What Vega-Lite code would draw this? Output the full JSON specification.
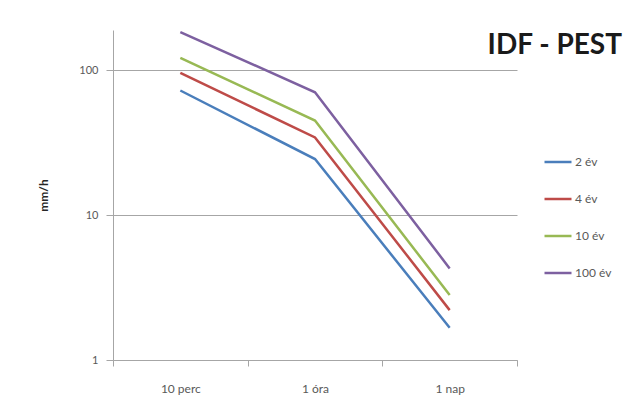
{
  "$schema": "https://vega.github.io/schema/vega-lite/v6.json",
  "width": 404,
  "height": 330,
  "autosize": {"type": "none"},
  "padding": {"left": 113, "top": 30, "right": 112, "bottom": 58},
  "background": "white",
  "config": {
    "font": "Lato",
    "view": {"stroke": null}
  },
  "title": {
    "text": "IDF - PEST",
    "anchor": "end",
    "frame": "group",
    "orient": "top",
    "offset": 0,
    "dx": 105,
    "dy": 33,
    "font": "Lato",
    "fontSize": 28,
    "fontWeight": "bold",
    "color": "#1a1a1a"
  },
  "data": {
    "values": [
      {"idotartam": "10 perc", "sor": "2 év", "ertek": 72.6},
      {"idotartam": "10 perc", "sor": "4 év", "ertek": 96},
      {"idotartam": "10 perc", "sor": "10 év", "ertek": 122},
      {"idotartam": "10 perc", "sor": "100 év", "ertek": 184},
      {"idotartam": "1 óra", "sor": "2 év", "ertek": 24.4},
      {"idotartam": "1 óra", "sor": "4 év", "ertek": 34.4},
      {"idotartam": "1 óra", "sor": "10 év", "ertek": 45},
      {"idotartam": "1 óra", "sor": "100 év", "ertek": 70.6},
      {"idotartam": "1 nap", "sor": "2 év", "ertek": 1.67},
      {"idotartam": "1 nap", "sor": "4 év", "ertek": 2.21},
      {"idotartam": "1 nap", "sor": "10 év", "ertek": 2.81},
      {"idotartam": "1 nap", "sor": "100 év", "ertek": 4.29}
    ]
  },
  "mark": {"type": "line", "strokeWidth": 2.5},
  "encoding": {
    "x": {
      "field": "idotartam",
      "type": "ordinal",
      "sort": ["10 perc", "1 óra", "1 nap"],
      "scale": {"type": "band", "paddingInner": 0, "paddingOuter": 0},
      "axis": {
        "title": null,
        "labelAngle": 0,
        "tickBand": "extent",
        "domainColor": "#a6a6a6",
        "tickColor": "#a6a6a6",
        "tickSize": 6,
        "labelColor": "#595959",
        "labelFontSize": 12,
        "labelPadding": 17,
        "grid": false
      }
    },
    "y": {
      "field": "ertek",
      "type": "quantitative",
      "scale": {"type": "log", "domain": [1, 190], "nice": false},
      "axis": {
        "title": "mm/h",
        "titleFontSize": 12,
        "titleFontWeight": "bold",
        "titleColor": "#262626",
        "titlePadding": 28,
        "values": [1, 10, 100],
        "format": "d",
        "grid": true,
        "gridColor": "#a6a6a6",
        "domainColor": "#a6a6a6",
        "tickColor": "#a6a6a6",
        "tickSize": 7,
        "labelColor": "#595959",
        "labelFontSize": 11,
        "labelPadding": 8
      }
    },
    "color": {
      "field": "sor",
      "type": "nominal",
      "scale": {
        "domain": ["2 év", "4 év", "10 év", "100 év"],
        "range": ["#4A7EBB", "#BE4B48", "#98B954", "#7D60A0"]
      },
      "legend": {
        "title": null,
        "orient": "none",
        "legendX": 430,
        "legendY": 117,
        "symbolType": "stroke",
        "symbolSize": 729,
        "symbolStrokeWidth": 2.5,
        "rowPadding": 16,
        "labelOffset": 2,
        "labelFontSize": 12,
        "labelColor": "#595959"
      }
    }
  }
}
